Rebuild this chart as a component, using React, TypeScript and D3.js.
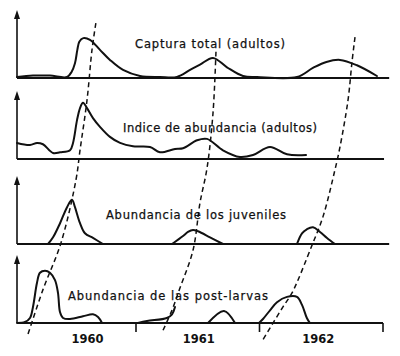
import React from "react";
import * as d3 from "d3";

// ---- data (x in months from Jan 1960, y as fraction of panel height) ----
const panelTitles = [
  "Captura total (adultos)",
  "Indice de abundancia (adultos)",
  "Abundancia de los juveniles",
  "Abundancia de las post-larvas",
];

const capturaTotal: [number, number][] = [
  [0.44, 0.015], [1.99, 0.036], [3.64, 0.036], [5.3, 0.015], [5.75, 0.094],
  [6.07, 0.22], [6.3, 0.42], [6.49, 0.54], [6.88, 0.595], [7.53, 0.57],
  [8.5, 0.42], [9.47, 0.27], [10.74, 0.12], [12.39, 0.03], [14.33, 0.015],
  [15.98, 0.015], [17.25, 0.12], [18.22, 0.2], [19.48, 0.3], [20.84, 0.16],
  [22.4, 0.03], [23.76, 0.015], [27.64, 0.015], [29.19, 0.15], [30.5, 0.24],
  [31.82, 0.27], [33.47, 0.19], [35.41, 0.03],
];

const indiceAbundancia: [number, number][] = [
  [0.44, 0.24], [1.7, 0.21], [2.38, 0.24], [2.96, 0.22], [3.94, 0.09],
  [4.62, 0.1], [5.59, 0.13], [5.88, 0.24], [6.27, 0.58], [6.56, 0.76],
  [6.85, 0.84], [7.24, 0.76], [7.82, 0.61], [8.5, 0.48], [9.47, 0.33],
  [10.45, 0.24], [11.71, 0.19], [13.36, 0.18], [14.33, 0.1], [15.79, 0.15],
  [16.57, 0.16], [17.93, 0.28], [18.9, 0.3], [20.45, 0.13], [22.1, 0.03],
  [23.37, 0.06], [25.02, 0.18], [26.67, 0.07], [28.52, 0.06],
];

const juveniles: [number, number][][] = [
  [[3.45, 0], [3.94, 0.1], [4.62, 0.31], [5.3, 0.55], [5.78, 0.66], [6.07, 0.55],
   [6.56, 0.31], [7.04, 0.16], [7.82, 0.09], [8.79, 0]],
  [[15.5, 0], [16.57, 0.12], [17.05, 0.18], [17.54, 0.21], [18.02, 0.19],
   [19.19, 0.1], [20.45, 0]],
  [[27.64, 0], [28.13, 0.16], [28.6, 0.22], [29.2, 0.25], [29.88, 0.18],
   [30.56, 0.09], [31.33, 0]],
];

const postLarvas: [number, number][][] = [
  [[0.44, 0], [1.21, 0.015], [1.7, 0.075], [1.99, 0.24], [2.38, 0.6], [2.67, 0.75],
   [3.16, 0.78], [3.64, 0.75], [4.13, 0.64], [4.42, 0.45], [4.62, 0.16],
   [4.91, 0.075], [5.59, 0.06], [6.85, 0.1], [7.82, 0.13], [8.31, 0.09], [8.7, 0]],
  [[12.19, 0], [13.07, 0.03], [15.0, 0.075], [15.5, 0.13], [15.79, 0.24]],
  [[19.0, 0], [20.55, 0.18], [21.62, 0]],
  [[23.95, 0], [24.34, 0.06], [25.02, 0.19], [25.7, 0.31], [26.67, 0.39],
   [27.64, 0.39], [28.13, 0.27], [28.6, 0.075], [28.9, 0]],
];

// dashed cohort lines: [month, row] where row runs 0..4 down the figure
const cohort1960: [number, number][] = [
  [8.1, 0.16], [7.72, 0.49], [7.24, 1.1], [6.56, 1.71], [6.17, 2.07],
  [4.71, 2.84], [2.96, 3.41], [1.41, 3.99],
];
const cohort1961: [number, number][] = [
  [19.77, 0.51], [19.48, 1.26], [18.9, 1.93], [18.22, 2.35], [17.54, 2.93],
  [16.27, 3.39], [15.5, 3.66], [14.5, 3.94],
];
const cohort1962: [number, number][] = [
  [33.28, 0.33], [32.99, 0.63], [32.6, 1.1], [31.82, 1.67], [31.33, 1.95],
  [30.17, 2.52], [29.1, 2.87], [27.16, 3.45], [26.28, 3.62], [24.34, 4.02],
];

const yearLabels = ["1960", "1961", "1962"];
const yearLabelMonths = [7.3, 18.1, 29.7];
const yearTicks = [12, 24, 36];
const axisEnds = [36.6, 36.1, 36.6, 36];

// ---- layout ----
const W = 400, H = 356;
const axisX = 17;
const baselines = [78, 159, 244, 323];
const panelH = 67;
const titlePos = [
  { x: 135, y: 48, len: 150 },
  { x: 123, y: 132, len: 194 },
  { x: 106, y: 219, len: 180 },
  { x: 68, y: 300, len: 200 },
];

const x = d3.scaleLinear().domain([0, 36]).range([12.5, 383]);
const rowY = d3.scaleLinear().domain([0, 4]).range([10, 338]);
const ink = "#111";

function panelLine(i: number) {
  const y = d3.scaleLinear().domain([0, 1]).range([baselines[i], baselines[i] - panelH]);
  return d3
    .line<[number, number]>()
    .x((d) => x(d[0]))
    .y((d) => y(d[1]))
    .curve(d3.curveCatmullRom.alpha(0.5));
}

const dashLine = d3
  .line<[number, number]>()
  .x((d) => x(d[0]))
  .y((d) => rowY(d[1]))
  .curve(d3.curveCatmullRom.alpha(0.5));

export default function App() {
  const series: [number, number][][][] = [
    [capturaTotal],
    [indiceAbundancia],
    juveniles,
    postLarvas,
  ];
  return (
    <svg
      width={W}
      height={H}
      viewBox={`0 0 ${W} ${H}`}
      style={{ position: "absolute", left: 0, top: 0, background: "#fff" }}
    >
      <rect width={W} height={H} fill="#fff" />
      {baselines.map((b, i) => {
        const line = panelLine(i);
        const top = b - panelH - 1;
        return (
          <g key={i}>
            <line x1={axisX} x2={axisX} y1={b} y2={top + 6} stroke={ink} strokeWidth={1.6} />
            <path d={`M${axisX - 3},${top + 9} L${axisX},${top} L${axisX + 3},${top + 9} Z`} fill={ink} />
            <line x1={axisX} x2={x(axisEnds[i])} y1={b} y2={b} stroke={ink} strokeWidth={1.8} />
            {series[i].map((seg, j) => (
              <path key={j} d={line(seg) || ""} fill="none" stroke={ink} strokeWidth={2} strokeLinejoin="round" strokeLinecap="round" />
            ))}
            <text
              x={titlePos[i].x}
              y={titlePos[i].y}
              textLength={titlePos[i].len}
              lengthAdjust="spacing"
              fontFamily="DejaVu Sans, sans-serif"
              fontSize={11.5}
              fill={ink}
              stroke={ink}
              strokeWidth={0.25}
            >
              {panelTitles[i]}
            </text>
          </g>
        );
      })}
      {yearTicks.map((t) => (
        <line key={t} x1={x(t)} x2={x(t)} y1={baselines[3]} y2={baselines[3] + 9} stroke={ink} strokeWidth={1.6} />
      ))}
      {yearLabels.map((lab, i) => (
        <text
          key={lab}
          x={x(yearLabelMonths[i])}
          y={343}
          textAnchor="middle"
          fontFamily="DejaVu Sans, sans-serif"
          fontWeight="bold"
          fontSize={11.5}
          fill={ink}
        >
          {lab}
        </text>
      ))}
      {[cohort1960, cohort1961, cohort1962].map((c, i) => (
        <path key={i} d={dashLine(c) || ""} fill="none" stroke={ink} strokeWidth={1.5} strokeDasharray="5,3.5" />
      ))}
    </svg>
  );
}
